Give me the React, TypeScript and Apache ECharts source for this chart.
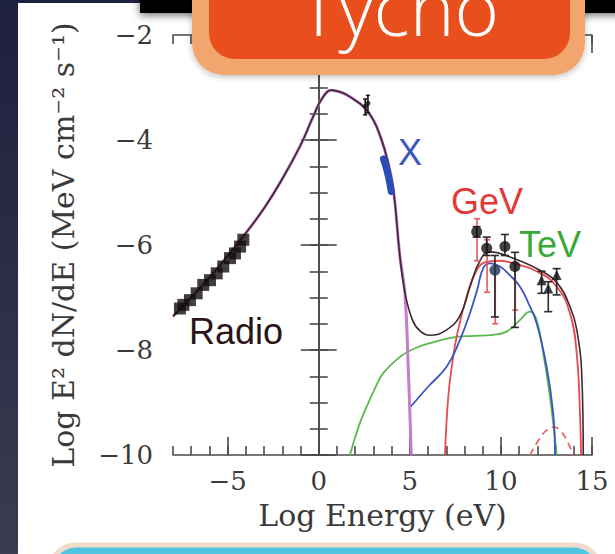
import { useEffect, useRef } from "react";
import * as echarts from "echarts";

// Axis ticks (log10 of energy in eV, log10 of E^2 dN/dE)
const xMajorTicks = [-5, 0, 5, 10, 15];

// Radio measurements (black squares)
const radioData = [
  [-7.62, -7.21], [-7.43, -7.14], [-7.07, -7.05], [-6.7, -6.92], [-6.34, -6.76],
  [-5.97, -6.67], [-5.6, -6.54], [-5.24, -6.41], [-4.87, -6.25], [-4.6, -6.16],
  [-4.32, -6.03], [-4.14, -5.9],
];

// Infrared points near the synchrotron peak
const irPoints = [[2.55, -3.36], [2.7, -3.3]];
const irErrors = [[2.55, -3.22, -3.52], [2.7, -3.15, -3.48]];

// X-ray spectrum segment
const xrayBand = [[3.55, -4.36], [3.7, -4.52], [3.85, -4.74], [3.98, -4.98]];

// Model curves
const totalModel = [
  [-8, -7.36], [-6, -6.62], [-4.2, -5.86], [-3, -5.3], [-2, -4.74], [-1, -4.1],
  [-0.3, -3.55], [0.2, -3.2], [0.7, -3.05], [1.3, -3.1], [1.9, -3.22], [2.5, -3.38],
  [3.0, -3.62], [3.4, -3.95], [3.75, -4.35], [4.1, -4.95], [4.45, -6.2], [4.73, -6.9],
  [5.17, -7.45], [5.6, -7.65], [6.1, -7.72], [7.0, -7.62], [7.75, -7.35], [8.3, -6.8],
  [8.85, -6.3], [9.4, -6.13], [10.66, -6.25], [12.14, -6.48], [13.08, -6.72],
  [13.8, -7.18], [14.17, -7.62], [14.45, -8.57], [14.52, -10],
];
const synchrotronModel = [
  [-8, -7.36], [-6, -6.62], [-4.2, -5.86], [-3, -5.3], [-2, -4.74], [-1, -4.1],
  [-0.3, -3.55], [0.2, -3.2], [0.7, -3.05], [1.3, -3.1], [1.9, -3.22], [2.5, -3.38],
  [3.0, -3.62], [3.4, -3.95], [3.75, -4.35], [4.1, -4.95], [4.45, -6.2], [4.73, -6.92],
  [4.92, -8.4], [5.08, -10],
];
const inverseComptonModel = [
  [5.0, -9.1], [6.0, -8.7], [7.02, -8.32], [7.7, -7.85], [8.3, -7.3], [8.7, -6.85],
  [9.03, -6.44], [9.4, -6.35], [9.95, -6.41], [10.5, -6.58], [11.04, -6.79],
  [11.5, -7.1], [11.96, -7.49], [12.51, -8.32], [12.87, -9.2], [12.97, -10],
];
const pionModel = [
  [6.93, -10], [7.11, -8.89], [7.35, -8.2], [7.57, -7.75], [8.12, -6.98], [8.67, -6.48],
  [9.22, -6.32], [10.0, -6.3], [10.68, -6.35], [11.96, -6.5], [13.06, -6.79],
  [13.79, -7.3], [14.16, -8.06], [14.34, -9.2], [14.4, -10],
];
const bremModel = [
  [1.71, -10], [2.2, -9.45], [2.63, -9.08], [3.1, -8.72], [3.54, -8.44], [4.46, -8.13],
  [5.2, -7.98], [6.1, -7.87], [7.57, -7.75], [8.5, -7.73], [9.59, -7.71], [10.31, -7.65],
  [11.04, -7.43], [11.59, -7.27], [11.96, -7.43], [12.32, -8.06], [12.69, -8.89], [13.06, -10],
];
const secondaryModel = [
  [11.6, -10], [12.1, -9.7], [12.5, -9.53], [12.9, -9.47], [13.3, -9.55], [13.7, -9.78], [13.95, -10],
];

// GeV (Fermi) and TeV points with error bars: [x, y] and [x, low, high]
const gevPoints = [[8.67, -5.75], [9.22, -6.06], [10.22, -6.03], [10.77, -6.41]];
const gevLowPoint = [[9.67, -6.48]];
const gevBlackErrors = [
  [8.67, -5.65, -5.85], [9.22, -5.85, -6.2], [10.22, -5.8, -6.2],
  [9.67, -6.2, -7.37], [10.77, -6.14, -7.57],
];
const gevRedErrors = [
  [8.69, -5.5, -6.3], [9.24, -5.9, -6.9], [9.69, -6.3, -7.5], [10.79, -6.35, -7.24],
];
const tevPoints = [[12.23, -6.67], [12.6, -6.83], [13.06, -6.57]];
const tevErrors = [[12.23, -6.5, -6.92], [12.6, -6.7, -7.27], [13.06, -6.45, -6.95]];

const AXIS_COLOR = "#4a4a4a";
const SERIF = "'DejaVu Serif', serif";
const SANS = "'Liberation Sans', Arial, sans-serif";

const minus = (v: number) => (v < 0 ? "\u2212" + Math.abs(v) : String(v));

function errorBars(data: number[][], color: string, cap: number) {
  return {
    type: "custom",
    xAxisIndex: 0,
    yAxisIndex: 0,
    data,
    encode: { x: 0, y: [1, 2] },
    z: 4,
    renderItem: (_params: any, api: any) => {
      const x = api.value(0);
      const p1 = api.coord([x, api.value(1)]);
      const p2 = api.coord([x, api.value(2)]);
      const style = { stroke: color, lineWidth: 1.6 };
      return {
        type: "group",
        children: [
          { type: "line", shape: { x1: p1[0], y1: p1[1], x2: p2[0], y2: p2[1] }, style },
          { type: "line", shape: { x1: p1[0] - cap, y1: p1[1], x2: p1[0] + cap, y2: p1[1] }, style },
          { type: "line", shape: { x1: p2[0] - cap, y1: p2[1], x2: p2[0] + cap, y2: p2[1] }, style },
        ],
      };
    },
  };
}

function curve(data: number[][], color: string, width: number, z = 2, dashed = false) {
  return {
    type: "line",
    xAxisIndex: 0,
    yAxisIndex: 0,
    data,
    smooth: 0.45,
    showSymbol: false,
    symbol: "none",
    z,
    lineStyle: { color, width, type: dashed ? [7, 5] : "solid" },
  };
}

const tickLine = { color: AXIS_COLOR, width: 1.6 };

function xAxes() {
  const base = { type: "value", min: -8, max: 15, splitLine: { show: false } };
  return [
    {
      ...base, position: "bottom", interval: 1,
      axisLine: { show: true, lineStyle: tickLine },
      axisTick: { inside: true, length: 9, lineStyle: tickLine },
      axisLabel: { show: false },
      name: "Log Energy (eV)", nameLocation: "middle", nameGap: 45,
      nameTextStyle: { fontFamily: SERIF, fontSize: 30, color: "#3a3a3a" },
    },
    {
      ...base, position: "bottom", interval: 1,
      axisLine: { show: false },
      axisTick: { inside: true, length: 18, lineStyle: tickLine, customValues: xMajorTicks },
      axisLabel: {
        customValues: xMajorTicks, formatter: minus, margin: 13,
        fontFamily: SERIF, fontSize: 26, color: "#3a3a3a",
      },
    },
    {
      ...base, position: "top", interval: 1,
      axisLine: { show: true, lineStyle: tickLine },
      axisTick: { inside: true, length: 9, lineStyle: tickLine },
      axisLabel: { show: false },
    },
    {
      ...base, position: "top", interval: 1,
      axisLine: { show: false },
      axisTick: { inside: true, length: 18, lineStyle: tickLine, customValues: xMajorTicks },
      axisLabel: { show: false },
    },
  ];
}

function yAxes() {
  const base = { type: "value", min: -10, max: -2, splitLine: { show: false } };
  return [
    {
      ...base, position: "left", interval: 0.5,
      axisLine: { show: true, lineStyle: tickLine },
      axisTick: { inside: true, length: 9, lineStyle: tickLine },
      axisLabel: { show: false },
      name: "Log E\u00b2 dN/dE (MeV cm\u207b\u00b2 s\u207b\u00b9)", nameLocation: "middle", nameGap: 95,
      nameTextStyle: { fontFamily: SERIF, fontSize: 30, color: "#3a3a3a" },
    },
    {
      ...base, position: "left", interval: 2,
      axisLine: { show: false },
      axisTick: { inside: true, length: 18, lineStyle: tickLine },
      axisLabel: { formatter: minus, margin: 20, fontFamily: SERIF, fontSize: 26, color: "#3a3a3a" },
    },
    {
      ...base, position: "right", interval: 0.5,
      axisLine: { show: true, lineStyle: tickLine },
      axisTick: { inside: true, length: 9, lineStyle: tickLine },
      axisLabel: { show: false },
    },
    {
      ...base, position: "right", interval: 2,
      axisLine: { show: false },
      axisTick: { inside: true, length: 18, lineStyle: tickLine },
      axisLabel: { show: false },
    },
  ];
}

function overlay() {
  const label = (text: string, x: number, y: number, fill: string) => ({
    type: "text", x, y, z: 20,
    style: { text, fill, fontFamily: SANS, fontSize: 36, textAlign: "left", textVerticalAlign: "middle" },
  });
  return [
    label("Radio", 189, 331, "#2a1418"),
    label("X", 398, 152, "#3a56c0"),
    label("GeV", 451, 201, "#e23a36"),
    label("TeV", 519, 244, "#3aa83a"),
    // slide frame pieces around the figure
    {
      type: "rect", z: 50, shape: { x: 0, y: 0, width: 18, height: 554 },
      style: {
        fill: new echarts.graphic.LinearGradient(0, 0, 0, 1, [
          { offset: 0, color: "#1d1f3e" },
          { offset: 1, color: "#3a3c50" },
        ]),
      },
    },
    { type: "rect", z: 50, shape: { x: 0, y: 0, width: 615, height: 3 }, style: { fill: "#1f2140" } },
    {
      type: "rect", z: 51, shape: { x: 140, y: -20, width: 500, height: 33 },
      style: { fill: "#050505", shadowBlur: 8, shadowColor: "rgba(0,0,0,0.6)", shadowOffsetY: 2 },
    },
    {
      type: "rect", z: 52, shape: { x: 192, y: -40, width: 393, height: 115, r: 32 },
      style: { fill: "#f2a66e", shadowBlur: 6, shadowColor: "rgba(0,0,0,0.25)", shadowOffsetY: 2 },
    },
    {
      type: "rect", z: 53, shape: { x: 209, y: -40, width: 361, height: 99, r: 26 },
      style: { fill: "#e84f1d" },
    },
    {
      type: "text", z: 54, x: 399, y: 6,
      style: {
        text: "Tycho", fill: "#ffffff", fontFamily: "'Open Sans', 'Lato', sans-serif",
        fontWeight: 300, fontSize: 76, textAlign: "center", textVerticalAlign: "middle",
      },
    },
    {
      type: "rect", z: 50, shape: { x: 50, y: 545, width: 550, height: 60, r: 26 },
      style: { fill: "#4fc5e1", stroke: "#efdccb", lineWidth: 5 },
    },
  ];
}

export default function App() {
  const ref = useRef<HTMLDivElement>(null);
  useEffect(() => {
    if (!ref.current) return;
    const chart = echarts.init(ref.current, null, { renderer: "svg" });
    chart.setOption({
      animation: false,
      backgroundColor: "#ffffff",
      grid: { left: 173, top: 35, width: 419, height: 420 },
      xAxis: xAxes(),
      yAxis: yAxes(),
      series: [
        curve(bremModel, "#5cb84f", 1.8),
        curve(secondaryModel, "#e86a6a", 1.8, 2, true),
        curve(pionModel, "#e8494b", 1.8),
        curve(inverseComptonModel, "#3b55c2", 1.8),
        curve(synchrotronModel, "#c67ccb", 3),
        curve(totalModel, "#3b2a33", 1.6, 3),
        {
          type: "line", xAxisIndex: 0, yAxisIndex: 0, data: xrayBand, smooth: true,
          showSymbol: false, symbol: "none", z: 4,
          lineStyle: { color: "#2c4cb6", width: 7, cap: "round" },
        },
        {
          type: "scatter", xAxisIndex: 0, yAxisIndex: 0, data: radioData,
          symbol: "rect", symbolSize: 12, z: 4, itemStyle: { color: "#140e10" },
        },
        errorBars(irErrors, "#151515", 2),
        {
          type: "scatter", xAxisIndex: 0, yAxisIndex: 0, data: irPoints,
          symbol: "circle", symbolSize: 5, z: 5, itemStyle: { color: "#151515" },
        },
        errorBars(gevRedErrors, "#e8585a", 3),
        errorBars(gevBlackErrors, "#2a2a2a", 4),
        errorBars(tevErrors, "#2a2a2a", 4),
        {
          type: "scatter", xAxisIndex: 0, yAxisIndex: 0, data: gevPoints,
          symbol: "circle", symbolSize: 11, z: 6, itemStyle: { color: "#111111" },
        },
        {
          type: "scatter", xAxisIndex: 0, yAxisIndex: 0, data: gevLowPoint,
          symbol: "circle", symbolSize: 11, z: 6, itemStyle: { color: "#1b3350" },
        },
        {
          type: "scatter", xAxisIndex: 0, yAxisIndex: 0, data: tevPoints,
          symbol: "triangle", symbolSize: 10, z: 6, itemStyle: { color: "#111111" },
        },
      ],
      graphic: overlay(),
    });
    return () => chart.dispose();
  }, []);
  return (
    <div
      ref={ref}
      style={{ position: "fixed", left: 0, top: 0, width: 615, height: 554, background: "#fff" }}
    />
  );
}
